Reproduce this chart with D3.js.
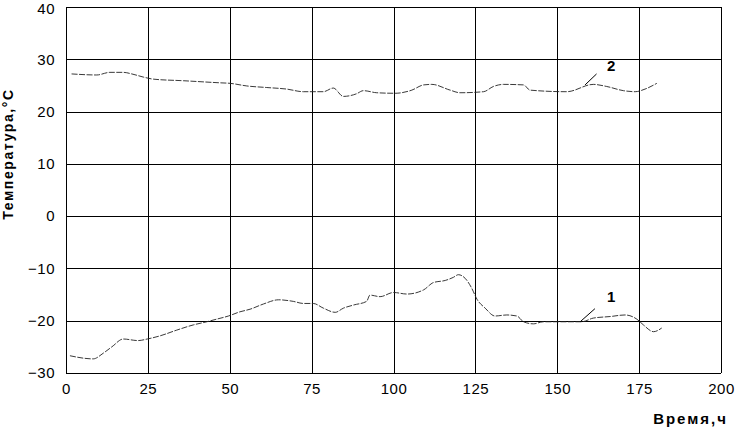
<!DOCTYPE html>
<html>
<head>
<meta charset="utf-8">
<script src="https://cdn.jsdelivr.net/npm/d3@7"></script>
<style>
  body { margin: 0; background: #fff; }
  svg { overflow: visible; }
  text { font-family: Arial, "Liberation Sans", sans-serif; fill: #000; }
</style>
</head>
<body>
<div id="chart"></div>
<script>
/* data */
var xTicks = [0, 25, 50, 75, 100, 125, 150, 175, 200];
var yTicks = [-30, -20, -10, 0, 10, 20, 30, 40];

// curve 1 (lower)
var time1 = [1.2, 8.3, 11.4, 14, 17.5, 22, 24.8, 28.7, 33.8, 38.9, 43, 46, 49.6, 53.1, 56.2, 60.3, 64.9, 69.4, 72.5, 75.5, 78.6, 82.2, 84.7, 87.8, 91.8, 92.8, 95.9, 100, 104.1, 109.2, 112.2, 115.8, 118.3, 119.8, 121.9, 123.9, 125.5, 128, 131, 134.6, 137.7, 139.7, 142.7, 145.8, 150.9, 157.5, 161, 166.2, 170.7, 174.3, 176.3, 179.4, 181.9];
var temp1 = [-26.7, -27.3, -26.2, -25, -23.5, -23.8, -23.5, -22.9, -21.8, -20.8, -20.2, -19.7, -19.1, -18.3, -17.8, -16.8, -16.0, -16.3, -16.7, -16.7, -17.6, -18.4, -17.6, -17, -16.3, -15.1, -15.4, -14.6, -14.9, -14.1, -12.7, -12.3, -11.7, -11.2, -11.9, -13.8, -15.9, -17.6, -19.1, -18.9, -19.1, -20.2, -20.6, -20.2, -20.2, -20.2, -19.5, -19.2, -18.9, -19.7, -20.8, -22.1, -21.4];

// curve 2 (upper)
var time2 = [1.7, 9.4, 13.4, 17.5, 20.1, 23.6, 26.7, 35.8, 47, 50.1, 55.2, 61.3, 67.4, 72.5, 78.6, 81.6, 84.7, 88.7, 90.8, 94.9, 100.5, 105.6, 109.2, 111.7, 117.3, 120.3, 127.5, 130.5, 133.6, 139.7, 141.7, 152.9, 161, 165.1, 170.2, 173.8, 176.8, 180.4];
var temp2 = [27.2, 27, 27.5, 27.5, 27.2, 26.6, 26.2, 25.9, 25.5, 25.4, 24.9, 24.6, 24.3, 23.8, 23.8, 24.5, 22.9, 23.4, 24, 23.6, 23.5, 24.1, 25.1, 25.2, 24.1, 23.6, 23.8, 24.8, 25.2, 25.1, 24.1, 23.8, 25.2, 24.8, 24, 23.8, 24.3, 25.4];

var curveLabels = [
  { name: "1", t: 157, v: -20.2, tx: 161.5, tv: -17.7, lx: 166.5, lv: -15.6 },
  { name: "2", t: 158.5, v: 25.1, tx: 162, tv: 27.2, lx: 166.5, lv: 28.5 }
];

var margin = { top: 7, right: 14, bottom: 56, left: 66 },
    width = 735 - margin.left - margin.right,
    height = 429 - margin.top - margin.bottom;

var svg = d3.select("#chart")
            .append("svg")
            .attr("width", 735)
            .attr("height", 429)
            .append("g")
            .attr("transform", "translate(" + margin.left + "," + margin.top + ")");

var x = d3.scaleLinear().domain([0, 200]).range([0, width]);
var y = d3.scaleLinear().domain([-30, 40]).range([height, 0]);

/* grid */
svg.selectAll(".vgrid")
   .data(xTicks)
   .enter()
   .append("line")
   .attr("x1", function (d) { return Math.round(x(d)) + 0.5; })
   .attr("x2", function (d) { return Math.round(x(d)) + 0.5; })
   .attr("y1", 0)
   .attr("y2", height)
   .style("stroke", "#000")
   .style("stroke-width", 1);

svg.selectAll(".hgrid")
   .data(yTicks)
   .enter()
   .append("line")
   .attr("x1", 0)
   .attr("x2", width)
   .attr("y1", function (d) { return Math.round(y(d)) + 0.5; })
   .attr("y2", function (d) { return Math.round(y(d)) + 0.5; })
   .style("stroke", "#000")
   .style("stroke-width", 1);

/* axes labels */
var xAxis = d3.axisBottom(x).tickValues(xTicks).tickSize(0).tickPadding(10);
svg.append("g")
   .attr("transform", "translate(0," + height + ")")
   .call(xAxis)
   .call(function (g) { g.select(".domain").remove(); })
   .selectAll("text")
   .style("font-size", "15px")
   .style("font-family", "Arial, 'Liberation Sans', sans-serif")
   .style("letter-spacing", "0.5px");

var yAxis = d3.axisLeft(y).tickValues(yTicks).tickSize(0).tickPadding(11)
              .tickFormat(function (d) { return d < 0 ? "\u2212" + Math.abs(d) : d; });
svg.append("g")
   .call(yAxis)
   .call(function (g) { g.select(".domain").remove(); })
   .selectAll("text")
   .attr("dy", function (d) { return d === 40 ? "0.42em" : "0.32em"; })
   .style("font-size", "15px")
   .style("font-family", "Arial, 'Liberation Sans', sans-serif")
   .style("letter-spacing", "0.5px");

/* curves */
var line = d3.line()
             .x(function (d) { return x(d[0]); })
             .y(function (d) { return y(d[1]); })
             .curve(d3.curveMonotoneX);

[d3.zip(time1, temp1), d3.zip(time2, temp2)].forEach(function (pts) {
  svg.append("path")
     .attr("d", line(pts))
     .style("fill", "none")
     .style("stroke", "#222")
     .style("stroke-width", 0.9)
     .style("stroke-dasharray", "6,1.5");
});

/* curve labels with leader lines */
svg.selectAll(".leader")
   .data(curveLabels)
   .enter()
   .append("line")
   .attr("x1", function (d) { return x(d.t); })
   .attr("y1", function (d) { return y(d.v); })
   .attr("x2", function (d) { return x(d.tx); })
   .attr("y2", function (d) { return y(d.tv); })
   .style("stroke", "#000")
   .style("stroke-width", 1);

svg.selectAll(".clabel")
   .data(curveLabels)
   .enter()
   .append("text")
   .attr("x", function (d) { return x(d.lx); })
   .attr("y", function (d) { return y(d.lv); })
   .attr("text-anchor", "middle")
   .attr("dominant-baseline", "middle")
   .style("font-size", "15px")
   .style("font-weight", "bold")
   .text(function (d) { return d.name; });

/* axis titles */
svg.append("text")
   .attr("x", width + 7)
   .attr("y", height + 51)
   .attr("text-anchor", "end")
   .style("font-size", "15px")
   .style("font-weight", "bold")
   .style("letter-spacing", "2px")
   .text("Время,ч");

svg.append("text")
   .attr("transform", "translate(" + (-53) + "," + (154 - margin.top) + ") rotate(-90)")
   .attr("text-anchor", "middle")
   .style("font-size", "14px")
   .style("font-weight", "bold")
   .style("letter-spacing", "1.6px")
   .text("Температура,°С");
</script>
</body>
</html>
